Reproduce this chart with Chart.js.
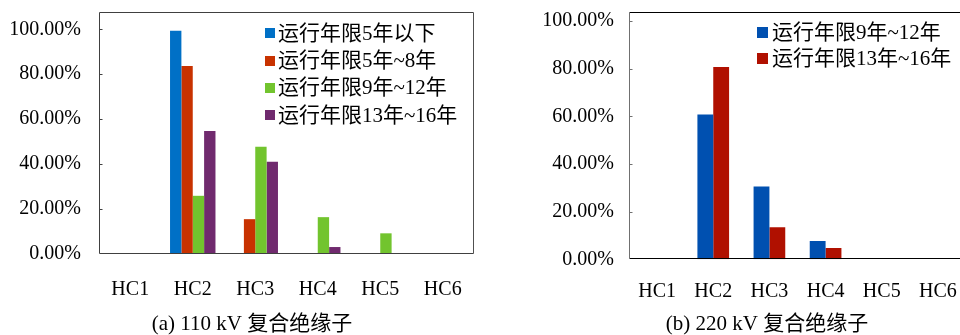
<!DOCTYPE html>
<html><head><meta charset="utf-8">
<script src="https://cdn.jsdelivr.net/npm/chart.js@4"></script>
<style>
html,body{margin:0;padding:0;background:#fff;overflow:hidden;width:960px;height:335px;position:relative;}
#c1{position:absolute;left:0;top:0;}
#c2{position:absolute;left:480px;top:0;}
</style></head><body>
<canvas id="c1" width="480" height="335"></canvas>
<canvas id="c2" width="500" height="335"></canvas>
<script>
// ---- data ----
const categories = ['HC1', 'HC2', 'HC3', 'HC4', 'HC5', 'HC6'];
const yTickValues = [0, 20, 40, 60, 80, 100];

const namesA = ['运行年限5年以下', '运行年限5年~8年', '运行年限9年~12年', '运行年限13年~16年'];
const a_under5 = [0, 99.3, 0, 0, 0, 0];
const a_5to8 = [0, 83.7, 15.5, 0, 0, 0];
const a_9to12 = [0, 25.9, 47.7, 16.4, 9.2, 0];
const a_13to16 = [0, 54.7, 41.0, 3.1, 0, 0];

const namesB = ['运行年限9年~12年', '运行年限13年~16年'];
const b_9to12 = [0, 60.8, 30.6, 7.7, 0, 0];
const b_13to16 = [0, 80.7, 13.4, 4.7, 0, 0];

const titleA = '(a) 110 kV 复合绝缘子';
const titleB = '(b) 220 kV 复合绝缘子';

// ---- styling ----
const SERIF = '"Liberation Serif", "Times New Roman", serif';
const MIXED = '"Liberation Serif", "Noto Sans CJK SC", serif';

const framePlugin = {
  id: 'frame',
  afterDatasetsDraw(chart, args, o) {
    const {ctx, chartArea: a} = chart;
    const y = chart.scales.y;
    const L = Math.round(a.left) + 0.5, R = Math.round(a.right) - 0.5;
    const T = Math.round(a.top) + 0.5, B = Math.round(a.bottom) - 0.5;
    ctx.save();
    ctx.lineWidth = 1;
    const line = (x1, y1, x2, y2, c) => { ctx.strokeStyle = c; ctx.beginPath(); ctx.moveTo(x1, y1); ctx.lineTo(x2, y2); ctx.stroke(); };
    line(L, T, R, T, o.top);
    line(R, T, R, B, o.right);
    line(L, B, R, B, o.bottom);
    line(L, T, L, B, o.left);
    ctx.strokeStyle = o.left;
    y.ticks.forEach(t => {
      if (t.value === 0) return;
      const py = Math.round(y.getPixelForValue(t.value)) + 0.5;
      ctx.beginPath(); ctx.moveTo(L, py); ctx.lineTo(L + 3, py); ctx.stroke();
    });
    ctx.restore();
  }
};

const legendPlugin = {
  id: 'inLegend',
  afterDraw(chart, args, o) {
    const ctx = chart.ctx;
    ctx.save();
    ctx.font = o.font;
    ctx.textBaseline = 'middle';
    ctx.textAlign = 'left';
    chart.data.datasets.forEach((ds, i) => {
      const cy = o.y + i * o.spacing;
      ctx.fillStyle = ds.backgroundColor;
      ctx.fillRect(o.x, Math.round(cy - o.box / 2), o.box, o.box);
      ctx.fillStyle = '#000';
      ctx.fillText(ds.label, o.x + o.box + o.gap, cy + 1);
    });
    ctx.restore();
  }
};

const captionPlugin = {
  id: 'caption',
  afterDraw(chart, args, o) {
    const ctx = chart.ctx;
    ctx.save();
    ctx.font = o.font;
    ctx.textBaseline = 'middle';
    ctx.textAlign = 'center';
    ctx.fillStyle = '#000';
    ctx.fillText(o.text, o.x, o.y);
    ctx.restore();
  }
};

const zeroPad = s => { s.paddingTop = 0; s.paddingBottom = 0; s.paddingLeft = 0; s.paddingRight = 0; };

function makeChart(id, cfg) {
  return new Chart(document.getElementById(id), {
    type: 'bar',
    data: {
      labels: categories,
      datasets: cfg.series.map(s => ({
        label: s.name, data: s.data, backgroundColor: s.color,
        borderWidth: 0, categoryPercentage: cfg.catPct, barPercentage: 1
      }))
    },
    options: {
      responsive: false, animation: false, devicePixelRatio: 1,
      layout: { padding: cfg.padding },
      plugins: {
        legend: { display: false },
        tooltip: { enabled: false },
        title: { display: false },
        frame: cfg.frame,
        inLegend: cfg.legend,
        caption: cfg.caption
      },
      scales: {
        x: {
          grid: { display: false, drawTicks: false }, border: { display: false },
          ticks: { color: '#000', font: { family: SERIF, size: 20 }, padding: cfg.xPad, maxRotation: 0, autoSkip: false },
          afterFit: s => { s.height = cfg.xHeight; zeroPad(s); }
        },
        y: {
          min: 0, max: cfg.yMax,
          grid: { display: false, drawTicks: false }, border: { display: false },
          ticks: { color: '#000', font: { family: SERIF, size: 20 }, padding: cfg.yPad,
                   callback: v => v.toFixed(2) + '%' },
          afterBuildTicks: s => { s.ticks = yTickValues.map(v => ({ value: v })); },
          afterFit: s => { s.width = cfg.yWidth; zeroPad(s); }
        }
      }
    },
    plugins: [framePlugin, legendPlugin, captionPlugin]
  });
}

makeChart('c1', {
  series: [
    { name: namesA[0], data: a_under5, color: '#0070C6' },
    { name: namesA[1], data: a_5to8, color: '#C83200' },
    { name: namesA[2], data: a_9to12, color: '#72C42E' },
    { name: namesA[3], data: a_13to16, color: '#702A6E' }
  ],
  catPct: 0.727,
  padding: { top: 12, left: 0, right: 6, bottom: 0 },
  yMax: 107.7, yWidth: 99, yPad: 18,
  xHeight: 81, xPad: 24,
  frame: { top: '#404040', right: '#505050', bottom: '#404040', left: '#404040' },
  legend: { x: 265, y: 33.3, spacing: 27.3, box: 10, gap: 3, font: '21px ' + MIXED },
  caption: { text: titleA, x: 252, y: 324, font: '21px ' + MIXED }
});

makeChart('c2', {
  series: [
    { name: namesB[0], data: b_9to12, color: '#0050B0' },
    { name: namesB[1], data: b_13to16, color: '#B01000' }
  ],
  catPct: 0.564,
  padding: { top: 12, left: 0, right: 14, bottom: 0 },
  yMax: 103.8, yWidth: 149, yPad: 15,
  xHeight: 75.7, xPad: 20,
  frame: { top: '#000000', right: '#000000', bottom: '#000000', left: '#707070' },
  legend: { x: 277, y: 32.8, spacing: 26, box: 11, gap: 4, font: '21px ' + MIXED },
  caption: { text: titleB, x: 287, y: 324, font: '21px ' + MIXED }
});
</script>
</body></html>
